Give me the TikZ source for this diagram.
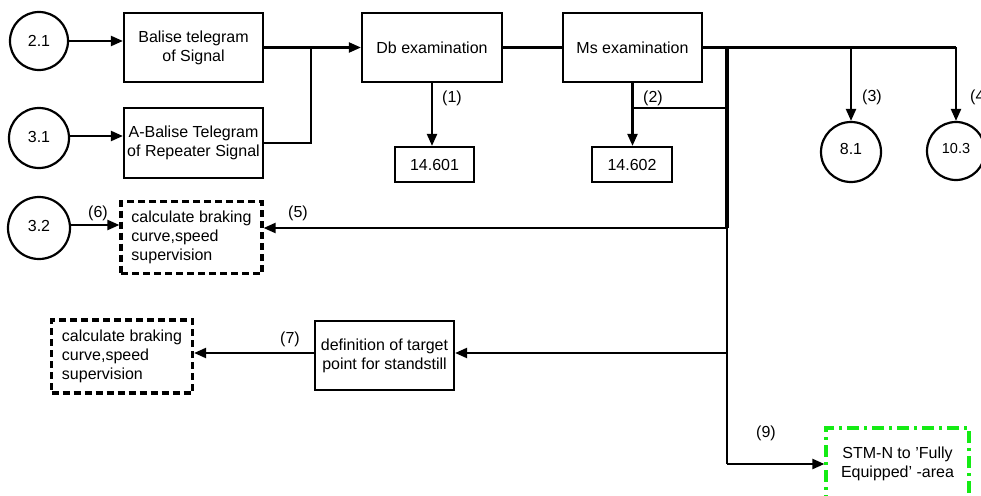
\documentclass[tikz,border=0pt]{standalone}
\usepackage{fontspec}
\setmainfont{Liberation Sans}
\usetikzlibrary{arrows.meta}
\definecolor{stmgreen}{RGB}{20,235,20}
\begin{document}
\begin{tikzpicture}[x=1pt,y=-1pt,
  every node/.style={font=\fontsize{16}{18.8}\selectfont},
  pbox/.style={draw,line width=2.2pt,inner sep=0pt,minimum width=#1,minimum height=69pt,align=center},
  nbox/.style={draw,line width=2.2pt,inner sep=0pt,minimum width=#1,minimum height=35pt},
  dbox/.style={draw,line width=3.2pt,dash pattern=on 7pt off 4pt,inner sep=0pt,minimum width=141pt,minimum height=72pt,align=left},
  gbox/.style={draw=stmgreen,line width=3.2pt,dash pattern=on 12pt off 5pt on 3pt off 5pt,inner sep=0pt,minimum width=143pt,minimum height=72pt,align=center},
  circ/.style={draw,circle,line width=2.2pt,inner sep=0pt,minimum size=#1},
  lbl/.style={inner sep=0pt},
  arr/.style={line width=2.2pt,-{Triangle[length=12pt,width=10pt]}},
  ln/.style={line width=2.2pt}]
\useasboundingbox (0,0) rectangle (981,495);

% circles
\node[circ=58pt] (c21) at (39,41) {\raisebox{1pt}{2.1}};
\node[circ=60pt] (c31) at (39,138) {\raisebox{3pt}{3.1}};
\node[circ=62pt] (c32) at (39,228) {\raisebox{4pt}{3.2}};
\node[circ=60pt] (c81) at (851,152) {\raisebox{6pt}{8.1}};
\node[circ=58pt,font=\fontsize{14.5}{17}\selectfont] (c103) at (956,151) {\raisebox{6pt}{10.3}};

% process boxes
\node[pbox=139pt] (bal) at (193.5,47.5) {Balise telegram\\of Signal};
\node[pbox=139pt,minimum height=70pt] (abal) at (193.5,143) {A-Balise Telegram\\of Repeater Signal};
\node[pbox=140pt] (db) at (432,47.5) {Db examination};
\node[pbox=139pt] (ms) at (632.5,47.5) {Ms examination};
\node[nbox=79pt] (n601) at (434.5,164.5) {14.601};
\node[nbox=80pt] (n602) at (632,164.5) {14.602};
\node[pbox=139pt] (def) at (384.5,355.5) {definition of target\\point for standstill};

% dashed boxes
\node[dbox] (cb1) at (191.5,237.5) {calculate braking\\curve,speed\\supervision};
\node[dbox,minimum height=73pt] (cb2) at (122,356.5) {calculate braking\\curve,speed\\supervision};
\node[gbox] (stm) at (897.5,464) {STM-N to 'Fully\\Equipped' -area};

% junction coordinates
\coordinate (j1) at (311,47.5);
\coordinate (bt) at (727,47.5);
\coordinate (b2) at (727,108);
\coordinate (b5) at (727,228);
\coordinate (b7) at (727,353);
\coordinate (b9) at (727,464);
\coordinate (t3) at (851,47.5);
\coordinate (t4) at (956,47.5);

% connectors
\draw[arr] (c21.east) -- (c21.east -| bal.west);
\draw[arr] (c31.east |- 0,136) -- (abal.west |- 0,136);
\draw[arr] (bal.east) -- (db.west);
\draw[ln] (abal.east) -| (j1);
\draw[ln] (db.east) -- (ms.west);
\draw[arr] (db.south) -- (db.south |- n601.north);
\draw[arr] (ms.south) -- (ms.south |- n602.north);
\draw[ln] (ms.south |- b2) -- (b2);
\draw[ln] (ms.east) -- (t4);
\draw[line width=3.5pt] (bt) -- (b5);
\draw[line width=2.8pt] (b5) -- (b7);
\draw[ln] (b7) -- (b9);
\draw[arr] (t3) -- (c81.north);
\draw[arr] (t4) -- (c103.north);
\draw[arr] (b5) -- (b5 -| cb1.east);
\draw[arr] (c32.east |- 0,225) -- (cb1.west |- 0,225);
\draw[arr] (b7) -- (b7 -| def.east);
\draw[arr] (def.west |- b7) -- (b7 -| cb2.east);
\draw[arr] (b9) -- (stm.west);

% labels
\node[lbl] (l1) at (452,98) {(1)};
\node[lbl] (l2) at (653,98) {(2)};
\node[lbl] (l3) at (872,97) {(3)};
\node[lbl] (l4) at (980,97) {(4)};
\node[lbl] (l5) at (298,213) {(5)};
\node[lbl] (l6) at (98,213) {(6)};
\node[lbl] (l7) at (290,339) {(7)};
\node[lbl] (l9) at (766,433) {(9)};
\end{tikzpicture}
\end{document}
